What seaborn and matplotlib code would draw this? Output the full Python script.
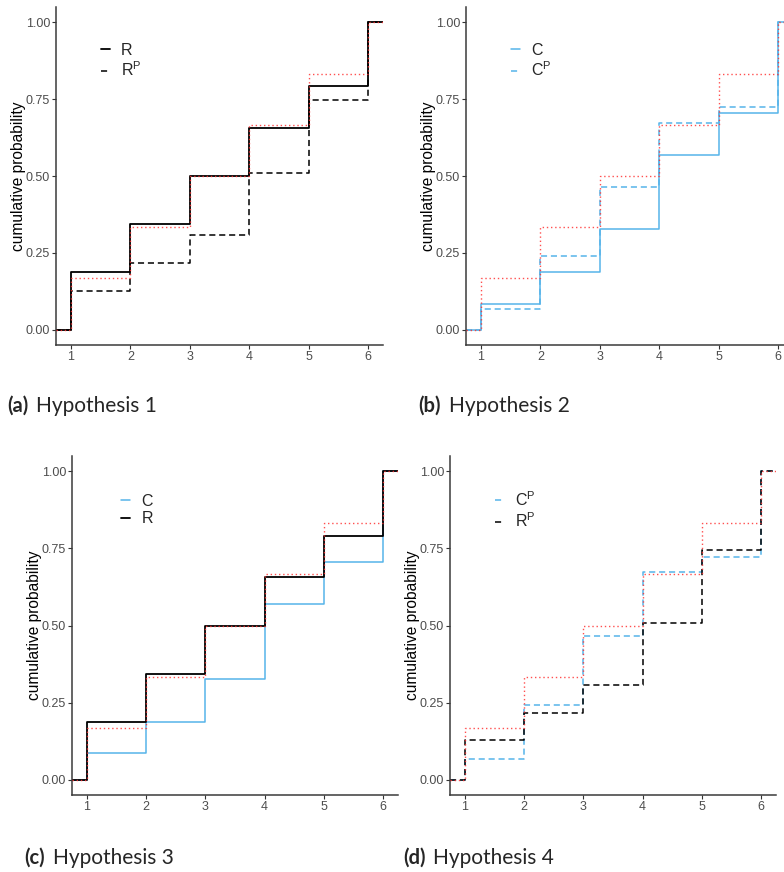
import matplotlib
matplotlib.use("Agg")
import matplotlib.pyplot as plt
from matplotlib.lines import Line2D
import pandas as pd
import seaborn as sns

# ---- data: cumulative probabilities per response level ----
levels = [1, 2, 3, 4, 5, 6]
cum_R = [0.188, 0.344, 0.500, 0.656, 0.792, 1.000]
cum_RP = [0.127, 0.217, 0.307, 0.509, 0.746, 1.000]
cum_C = [0.085, 0.188, 0.327, 0.569, 0.706, 1.000]
cum_CP = [0.068, 0.241, 0.465, 0.672, 0.723, 1.000]
cum_uniform = [1 / 6, 2 / 6, 3 / 6, 4 / 6, 5 / 6, 1.000]

y_ticks = [0.00, 0.25, 0.50, 0.75, 1.00]
y_label = "cumulative probability"

series = {
    "R": cum_R,
    "RP": cum_RP,
    "C": cum_C,
    "CP": cum_CP,
}
legend_text = {"R": "R", "RP": "R$^{P}$", "C": "C", "CP": "C$^{P}$"}

panels = [
    (["R", "RP"], "(a)", "Hypothesis 1"),
    (["C", "CP"], "(b)", "Hypothesis 2"),
    (["C", "R"], "(c)", "Hypothesis 3"),
    (["CP", "RP"], "(d)", "Hypothesis 4"),
]

# ---- styling ----
sns.set_theme(style="ticks")
plt.rcParams["font.family"] = ["Liberation Sans", "DejaVu Sans"]
plt.rcParams["mathtext.default"] = "regular"

BLUE = "#56B4E9"
styles = {
    "R": dict(color="black", linestyle="-", linewidth=1.3),
    "RP": dict(color="black", linestyle=(0, (4, 2.5)), linewidth=1.1),
    "C": dict(color=BLUE, linestyle="-", linewidth=1.1),
    "CP": dict(color=BLUE, linestyle=(0, (4, 2.5)), linewidth=1.1),
}
ref_style = dict(color="#FF3030", linestyle=(0, (1, 2)), linewidth=1.0, alpha=0.85)

X_LIM = (0.75, 6.25)
Y_LIM = (-0.05, 1.05)

W, H = 784, 872
fig = plt.figure(figsize=(W / 100, H / 100), dpi=100)

# axes rectangles in pixels: left, top, right, bottom
rects = [
    (56, 7, 383, 345),
    (466, 7, 793, 345),
    (72, 456, 398, 795),
    (450, 456, 776, 795),
]
caption_pos = [(7, 412), (418, 412), (24, 864), (403, 864)]


def step_frame(cum):
    # pad the ECDF to the panel edges (0 on the left, 1 on the right)
    xs = [X_LIM[0]] + levels + [X_LIM[1]]
    ys = [0.0] + list(cum) + [1.0]
    return pd.DataFrame({"x": xs, "y": ys})


spine_col = "#3a3a3a"
axes = []
for (keys, tag, title), (l, t, r, b) in zip(panels, rects):
    ax = fig.add_axes([l / W, 1 - b / H, (r - l) / W, (b - t) / H])
    axes.append(ax)
    for k in keys:
        sns.lineplot(data=step_frame(series[k]), x="x", y="y", ax=ax,
                     drawstyle="steps-post", zorder=2, **styles[k])
    sns.lineplot(data=step_frame(cum_uniform), x="x", y="y", ax=ax,
                 drawstyle="steps-post", zorder=3, **ref_style)

    ax.set_xlim(*X_LIM)
    ax.set_ylim(*Y_LIM)
    ax.set_xticks(levels)
    ax.set_xticklabels([str(v) for v in levels])
    ax.set_yticks(y_ticks)
    ax.set_yticklabels([f"{v:.2f}" for v in y_ticks])
    ax.set_xlabel("")
    ax.set_ylabel(y_label, fontsize=11.2, color="black")
    ax.yaxis.set_label_coords(-30 / (r - l), 0.5)
    ax.tick_params(axis="both", labelsize=9, labelcolor="#4D4D4D",
                   color="#333333", length=2.7, width=0.8, pad=1.5)
    for s in ["top", "right"]:
        ax.spines[s].set_visible(False)
    for s in ["left", "bottom"]:
        ax.spines[s].set_color(spine_col)
        ax.spines[s].set_linewidth(1.1)
    ax.set_facecolor("white")

    handles = [Line2D([], [], **styles[k]) for k in keys]
    labels = [legend_text[k] for k in keys]
    ax.legend(handles, labels, loc="center", bbox_to_anchor=(0.2, 0.84),
              frameon=False, fontsize=11.5, handlelength=0.55,
              handletextpad=0.7, labelspacing=0.15, borderpad=0)

# ---- captions: bold tag followed by regular title ----
fig.canvas.draw()
renderer = fig.canvas.get_renderer()
for (keys, tag, title), (cx, cy) in zip(panels, caption_pos):
    t1 = fig.text(cx / W, 1 - cy / H, tag, family="Lato", fontweight="bold",
                  fontsize=14.5, va="baseline", ha="left")
    bb = t1.get_window_extent(renderer=renderer)
    fig.text((bb.x1 + 8) / W, 1 - cy / H, title, family="Lato",
             fontsize=15, va="baseline", ha="left")

fig.savefig("out.png", dpi=100, facecolor="white")
